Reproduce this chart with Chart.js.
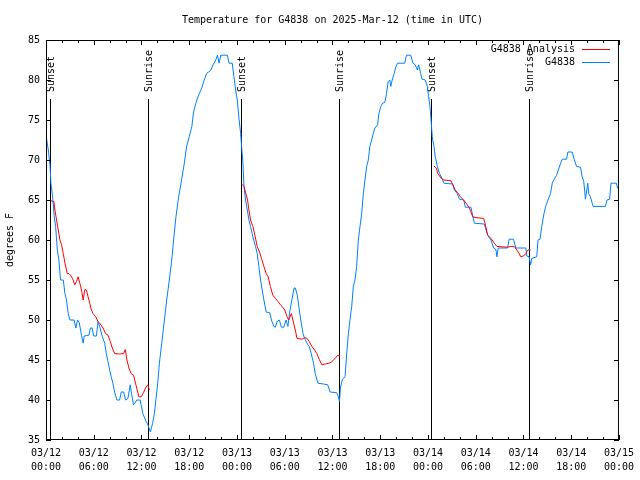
<!DOCTYPE html>
<html>
<head>
<meta charset="utf-8">
<script src="https://cdn.jsdelivr.net/npm/chart.js@4.4.1/dist/chart.umd.min.js"></script>
<style>
  body { margin: 0; background: #fff; }
  #wrap { width: 640px; height: 480px; }
</style>
</head>
<body>
<div id="wrap"><canvas id="mycanvas" width="640" height="480"></canvas></div>
<script>
// hours since 03/12 00:00 UTC
var obsHours = [0.0,0.29,0.5,0.62,0.83,1.04,1.21,1.42,1.62,1.83,2.17,2.38,2.58,2.79,3.0,3.54,3.75,3.96,4.17,4.46,4.67,4.8,5.38,5.58,5.79,6.0,6.33,6.54,6.75,7.08,7.38,7.58,7.79,8.0,8.2,8.4,8.62,8.9,9.25,9.46,9.75,10.0,10.3,10.58,10.75,11.0,11.17,11.4,11.83,12.17,12.5,12.8,13.12,13.4,13.62,13.83,14.04,14.25,14.54,14.88,15.17,15.5,15.8,16.04,16.33,16.67,17.04,17.38,17.67,18.0,18.33,18.54,18.83,19.17,19.58,19.88,20.17,20.42,20.7,21.0,21.33,21.54,21.75,21.96,22.8,23.0,23.4,23.62,23.83,24.04,24.25,24.46,24.58,24.75,24.88,25.08,25.3,25.5,25.7,25.9,26.1,26.33,26.54,26.75,26.96,27.17,27.38,27.67,28.12,28.33,28.62,28.83,29.04,29.33,29.58,29.88,30.17,30.4,30.62,30.9,31.17,31.33,31.58,31.83,32.08,32.3,32.5,32.8,33.08,33.33,33.62,33.83,34.17,34.88,35.4,35.7,36.54,36.75,36.88,37.0,37.25,37.58,37.79,38.0,38.2,38.42,38.62,38.83,39.04,39.25,39.46,39.67,39.88,40.08,40.3,40.5,40.7,40.92,41.12,41.33,41.67,41.83,42.08,42.3,42.58,42.79,43.0,43.2,43.33,43.5,43.75,43.92,44.17,45.08,45.3,45.83,46.12,46.4,46.67,46.83,47.08,47.25,47.67,47.92,48.08,48.25,48.42,48.54,48.75,48.92,49.17,49.46,49.75,50.0,51.12,51.33,51.67,51.96,52.5,52.7,53.4,53.83,55.08,55.5,55.92,56.25,56.54,56.67,56.83,58.0,58.2,58.75,59.04,60.3,60.42,60.7,60.9,61.04,61.67,61.83,62.08,62.3,62.58,62.79,63.08,63.4,63.62,63.92,64.17,64.46,64.67,64.88,65.42,65.58,66.12,66.4,66.67,67.17,67.38,67.58,67.79,67.92,68.08,68.2,68.42,68.75,70.3,70.5,70.83,71.0,71.67,71.83,72.0];
var obsTemps = [73.1,71.25,69.4,67.1,65.4,62.9,61.7,58.75,57.5,55,55,53.3,52.5,50.8,50,50,49,50,49.7,48.1,47.1,48,48.1,49,49,48,48,49.8,49.2,47.9,47.1,45.8,44.8,43.75,42.9,42.1,41,40,40,41,41,40,40.2,41.9,40.8,39.4,39.6,40,40,38.3,37.5,36.9,36.0,37.1,38.3,40.2,42.1,44.6,47.1,50,52.5,55,57.5,60,62.9,65.4,67.5,69.6,71.7,72.9,74.2,76,77.1,78.1,79,80,80.8,81,81.2,81.9,82.5,83.1,82.1,83.1,83.1,82.1,82.1,80.4,78.75,77.5,75.2,73.3,71.7,69.6,66.7,65,63.75,62.5,61.7,60.8,60,59.2,58.3,56.7,55,53.75,52.5,51,50.9,50,49.2,49.1,49.8,50,49.1,49.1,50,49.2,51,52.5,54,54,53.1,51.25,49.6,48.3,47.7,47.1,46.7,45.8,44.6,43.3,42.1,42,41.9,41,40.9,40.4,39.8,41.5,42.6,42.9,45.8,48.3,50,51.7,54.2,55,56.7,60,61.7,63.3,65.8,67.5,69.2,70,71.7,72.5,73.3,74,74.4,75.8,76.7,77.1,77.2,78.3,79.8,80,79.2,80,80.8,81.5,82.1,82.1,83.1,83.1,82.1,81.9,81.25,81.9,80.8,80.1,80,79.2,77.9,76.7,74.6,72.9,71.7,70.4,69.2,68.3,67.7,67.1,67,66.25,65.8,65.1,65,64.1,64.1,62.1,62,60.6,60,59,58.8,57.9,59,59,60.1,60.1,59,59,58,57.9,56.9,57.7,57.9,60,60.1,61.7,63.3,64.2,65,65.8,67.1,67.7,68.1,69,69.6,70.1,70.1,71.0,71.0,70,69.2,69.1,67.9,67.3,65.1,66,67.1,65.8,65.4,64.2,64.2,65,65.1,67.1,67.1,66.5,66.5];

// analysis runs, null breaks the line between nights
var anaHours = [0.62,1.0,1.12,1.33,1.54,1.75,1.96,2.17,2.38,2.67,2.88,3.08,3.33,3.62,3.83,4.04,4.25,4.46,4.67,4.88,5.08,5.29,5.5,5.7,5.92,6.25,6.54,6.75,7.17,7.5,7.79,8.08,8.33,8.62,9.25,9.75,9.96,10.17,10.42,10.7,11.0,11.25,11.46,11.67,11.96,12.25,12.5,12.79,13.0,
  13.5,
  24.58,24.88,25.17,25.33,25.5,25.7,26.0,26.25,26.54,26.83,27.08,27.38,27.67,27.92,28.2,28.5,28.83,29.17,29.46,29.67,30.0,30.29,30.5,30.83,31.12,31.33,31.54,32.17,32.5,32.8,33.08,33.42,33.75,34.04,34.33,34.67,35.08,35.58,35.92,36.33,36.67,36.96,
  37.5,
  48.75,49.04,49.25,49.67,50.0,50.9,51.12,51.42,51.75,52.08,52.38,52.79,53.2,53.4,53.62,54.04,55.0,55.17,55.5,55.92,56.33,56.67,58.0,58.4,58.83,59.17,59.46,59.67,60.0,60.3,60.5,60.7,60.9];
var anaTemps = [64.9,64.8,63.75,62.5,61.25,60,59.4,58.3,57.1,55.8,55.8,55.6,55.2,54.4,54.8,55.4,54.6,53.75,52.5,53.8,53.75,52.9,52.1,51.25,50.8,50.4,49.8,49.6,49,48.3,48.1,47.3,46.5,45.8,45.75,45.8,46.3,45,44,43.3,43.1,42.1,41.25,40.4,40.4,40.9,41.5,41.9,41.25,
  null,
  67,66.7,65.6,65,63.75,62.5,61.7,60.6,59.2,58.5,57.7,56.7,55.8,55.4,54.2,53.1,52.7,52.3,51.9,51.7,51.25,50.4,50,50.8,49.6,48.75,47.7,47.6,47.8,47.7,47.3,46.7,46.25,45.8,45.1,44.4,44.5,44.6,44.8,45.2,45.6,45.5,
  null,
  69.25,69,68.3,67.7,67.5,67.4,66.9,66.25,65.9,65.4,65.1,64.6,64,63.5,62.9,62.8,62.7,62.1,60.6,60.2,59.6,59.2,59.1,59.2,59.2,58.75,58.3,57.9,58,58.3,58.7,58.8,58.75];

var sunHours = [0.5, 12.8, 24.54, 36.8, 48.42, 60.67];
var sunLabels = ['Sunset', 'Sunrise', 'Sunset', 'Sunrise', 'Sunset', 'Sunrise'];

var tickDates = ['03/12','03/12','03/12','03/12','03/13','03/13','03/13','03/13','03/14','03/14','03/14','03/14','03/15'];
var tickTimes = ['00:00','06:00','12:00','18:00','00:00','06:00','12:00','18:00','00:00','06:00','12:00','18:00','00:00'];

var seriesNames = ['G4838 Analysis', 'G4838'];
var seriesColors = ['#ff0000', '#0080ff'];

var FONT = 'DejaVu Sans Mono';

function pairs(xs, ys) {
	var out = [];
	for (var i = 0; i < xs.length; i++) out.push({x: xs[i], y: ys[i]});
	return out;
}

/* frame, inward ticks, sun lines and legend, gnuplot style */
var gnuplotBits = {
	id: 'gnuplotBits',
	beforeDatasetsDraw: function(chart) {
		var c = chart.ctx, a = chart.chartArea, xs = chart.scales.x;
		c.save();
		c.strokeStyle = '#000';
		c.lineWidth = 1;
		c.fillStyle = '#000';
		c.font = '10px "' + FONT + '"';
		for (var i = 0; i < sunHours.length; i++) {
			var px = Math.round(xs.getPixelForValue(sunHours[i])) + 0.5;
			c.beginPath();
			c.moveTo(px, a.top + 59);
			c.lineTo(px, a.bottom);
			c.stroke();
			c.save();
			c.translate(px + 1, a.top + 52);
			c.rotate(-Math.PI / 2);
			c.textAlign = 'left';
			c.textBaseline = 'middle';
			c.fillText(sunLabels[i], 0, 0);
			c.restore();
		}
		c.restore();
	},
	afterDraw: function(chart) {
		var c = chart.ctx, a = chart.chartArea, xs = chart.scales.x, ys = chart.scales.y;
		c.save();
		c.strokeStyle = '#000';
		c.lineWidth = 1;
		c.strokeRect(a.left + 0.5, a.top + 0.5, a.right - a.left - 1, a.bottom - a.top - 1);
		c.beginPath();
		for (var h = 0; h <= 72; h += 2) {
			var px = Math.round(xs.getPixelForValue(h)) + 0.5;
			var len = (h % 6 === 0) ? 5 : 3;
			c.moveTo(px, a.bottom); c.lineTo(px, a.bottom - len);
			c.moveTo(px, a.top); c.lineTo(px, a.top + len);
		}
		for (var t = 35; t <= 85; t += 5) {
			var py = Math.round(ys.getPixelForValue(t)) + 0.5;
			c.moveTo(a.left, py); c.lineTo(a.left + 5, py);
			c.moveTo(a.right, py); c.lineTo(a.right - 5, py);
		}
		c.stroke();

		/* legend */
		c.font = '10px "' + FONT + '"';
		c.textAlign = 'right';
		c.textBaseline = 'middle';
		c.fillStyle = '#000';
		for (var k = 0; k < seriesNames.length; k++) {
			var ly = a.top + 9.5 + k * 13;
			c.fillText(seriesNames[k], a.left + 529, ly);
			c.strokeStyle = seriesColors[k];
			c.beginPath();
			c.moveTo(a.left + 536, ly);
			c.lineTo(a.left + 564, ly);
			c.stroke();
		}
		c.restore();
	}
};

var ctx = document.getElementById('mycanvas');
var chart = new Chart(ctx, {
	type: 'line',
	data: {
		datasets: [
			{
				label: seriesNames[0],
				data: pairs(anaHours, anaTemps),
				borderColor: seriesColors[0],
				borderWidth: 1,
				pointRadius: 0,
				tension: 0,
				spanGaps: false
			},
			{
				label: seriesNames[1],
				data: pairs(obsHours, obsTemps),
				borderColor: seriesColors[1],
				borderWidth: 1,
				pointRadius: 0,
				tension: 0
			}
		]
	},
	options: {
		responsive: false,
		animation: false,
		devicePixelRatio: 1,
		layout: { padding: { left: 0, right: 18, top: 0, bottom: 0 } },
		plugins: {
			legend: { display: false },
			tooltip: { enabled: false },
			title: {
				display: true,
				fullSize: false,
				text: 'Temperature for G4838 on 2025-Mar-12 (time in UTC)',
				color: '#000',
				font: { family: FONT, size: 10, weight: 'normal', lineHeight: 1.2 },
				padding: { top: 14, bottom: 14 }
			}
		},
		scales: {
			x: {
				type: 'linear',
				min: 0,
				max: 72,
				afterFit: function(s) { s.height = 40; },
				afterBuildTicks: function(s) {
					s.ticks = tickDates.map(function(d, i) { return {value: i * 6}; });
				},
				grid: { display: false, drawTicks: false },
				border: { display: false },
				ticks: {
					autoSkip: false,
					maxRotation: 0,
					padding: 6,
					color: '#000',
					font: { family: FONT, size: 10, lineHeight: 1.4 },
					callback: function(v, i) { return [tickDates[i], tickTimes[i]]; }
				}
			},
			y: {
				min: 35,
				max: 85,
				afterFit: function(s) { s.width = 46; },
				grid: { display: false, drawTicks: false },
				border: { display: false },
				title: {
					display: true,
					text: 'degrees F',
					color: '#000',
					font: { family: FONT, size: 10, lineHeight: 1.2 },
					padding: { top: 4, bottom: 0 }
				},
				ticks: {
					stepSize: 5,
					padding: 6,
					color: '#000',
					font: { family: FONT, size: 10 }
				}
			}
		}
	},
	plugins: [gnuplotBits]
});
</script>
</body>
</html>
